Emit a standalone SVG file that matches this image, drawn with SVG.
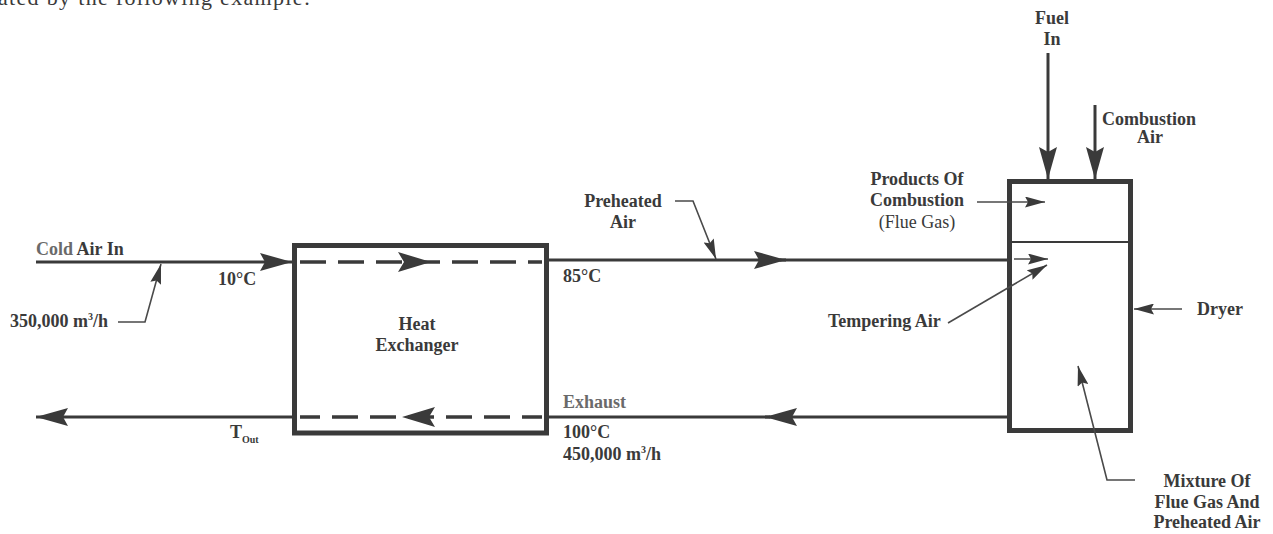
<svg xmlns="http://www.w3.org/2000/svg" width="1273" height="534" viewBox="0 0 1273 534">
<style>
  text { font-family: "Liberation Serif", "Times New Roman", serif; fill: #3a3a3a; font-weight: bold; font-size: 18px; }
  .reg { font-weight: normal; }
  .light { fill: #6a6a6a; }
  .mid { text-anchor: middle; }
  .flow { stroke: #3a3a3a; stroke-width: 3; fill: none; }
  .box { stroke: #3a3a3a; stroke-width: 5; fill: none; }
  .dash { stroke: #3a3a3a; stroke-width: 3.5; fill: none; stroke-dasharray: 26 12; }
  .lead { stroke: #4a4a4a; stroke-width: 1.6; fill: none; }
</style>
<defs>
  <marker id="big" viewBox="0 0 32 18" refX="32" refY="9" markerWidth="32" markerHeight="18" markerUnits="userSpaceOnUse" orient="auto">
    <path d="M0,0 L32,9 L0,18 L5,9 z" fill="#3a3a3a"/>
  </marker>
  <marker id="small" viewBox="0 0 20 11" refX="20" refY="5.5" markerWidth="20" markerHeight="11" markerUnits="userSpaceOnUse" orient="auto">
    <path d="M0,0 L20,5.5 L0,11 L3,5.5 z" fill="#3a3a3a"/>
  </marker>
</defs>

<text class="reg" x="-2" y="5" style="font-size:22px" textLength="312">ated by the following example:</text>

<g id="heat-exchanger">
  <rect class="box" x="294.5" y="245.5" width="252" height="187.5"/>
  <line class="dash" x1="300" y1="262" x2="542" y2="262"/>
  <line class="dash" x1="300" y1="417" x2="542" y2="417" stroke-dashoffset="6"/>
  <path d="M398,252 L431,262 L398,272 L404,262 z" fill="#3a3a3a"/>
  <path d="M435,407 L402,417 L435,427 L429,417 z" fill="#3a3a3a"/>
  <text class="mid" x="417" y="330">Heat</text>
  <text class="mid" x="417" y="351">Exchanger</text>
</g>

<g id="dryer">
  <rect x="1009.5" y="181.5" width="121" height="249" stroke="#3a3a3a" stroke-width="5" fill="none"/>
  <line x1="1009" y1="242" x2="1131" y2="242" stroke="#3a3a3a" stroke-width="2"/>
</g>

<g id="connectors">
  <line class="flow" x1="36" y1="262" x2="292" y2="262" marker-end="url(#big)"/>
  <line class="flow" x1="549" y1="260" x2="786" y2="260" marker-end="url(#big)"/>
  <line class="flow" x1="780" y1="260" x2="1008" y2="260"/>
  <line class="flow" x1="1008" y1="417" x2="765" y2="417" marker-end="url(#big)"/>
  <line class="flow" x1="770" y1="417" x2="549" y2="417"/>
  <line class="flow" x1="294" y1="417" x2="36" y2="417" marker-end="url(#big)"/>
  <line class="flow" x1="1048" y1="53" x2="1048" y2="179" marker-end="url(#big)"/>
  <line class="flow" x1="1095" y1="105" x2="1095" y2="179" marker-end="url(#big)"/>
  <line class="lead" x1="977" y1="202" x2="1045" y2="202" marker-end="url(#small)"/>
  <line class="lead" x1="1014" y1="259" x2="1048" y2="259" marker-end="url(#small)"/>
  <line class="lead" x1="948" y1="323" x2="1047" y2="265" marker-end="url(#small)"/>
  <line class="lead" x1="1182" y1="309" x2="1134" y2="309" marker-end="url(#small)"/>
  <polyline class="lead" points="1135,480 1107,480 1078,366" marker-end="url(#small)"/>
  <polyline class="lead" points="675,201 693,201 716,259" marker-end="url(#small)"/>
  <polyline class="lead" points="118,322 145,322 161,264" marker-end="url(#small)"/>
</g>

<g id="labels">
  <text x="36" y="255"><tspan class="light">Cold</tspan> Air In</text>
  <text x="218" y="285">10°C</text>
  <text x="10" y="327">350,000 m<tspan dy="-7" style="font-size:10px">3</tspan><tspan dy="7">/h</tspan></text>
  <text x="563" y="282">85°C</text>
  <text class="mid" x="623" y="207">Preheated</text>
  <text class="mid" x="623" y="228">Air</text>
  <text class="light" x="563" y="408">Exhaust</text>
  <text x="563" y="438">100°C</text>
  <text x="563" y="460">450,000 m<tspan dy="-7" style="font-size:10px">3</tspan><tspan dy="7">/h</tspan></text>
  <text x="230" y="438">T<tspan dy="5" style="font-size:10px">Out</tspan></text>
  <text class="mid" x="1052" y="24">Fuel</text>
  <text class="mid" x="1052" y="45">In</text>
  <text x="1102" y="125">Combustion</text>
  <text class="mid" x="1150" y="143">Air</text>
  <text class="mid" x="917" y="185">Products Of</text>
  <text class="mid" x="917" y="206">Combustion</text>
  <text class="mid reg" x="917" y="228">(Flue Gas)</text>
  <text x="828" y="327">Tempering Air</text>
  <text x="1197" y="315">Dryer</text>
  <text class="mid" x="1207" y="487">Mixture Of</text>
  <text class="mid" x="1207" y="508">Flue Gas And</text>
  <text class="mid" x="1207" y="528">Preheated Air</text>
</g>
</svg>
